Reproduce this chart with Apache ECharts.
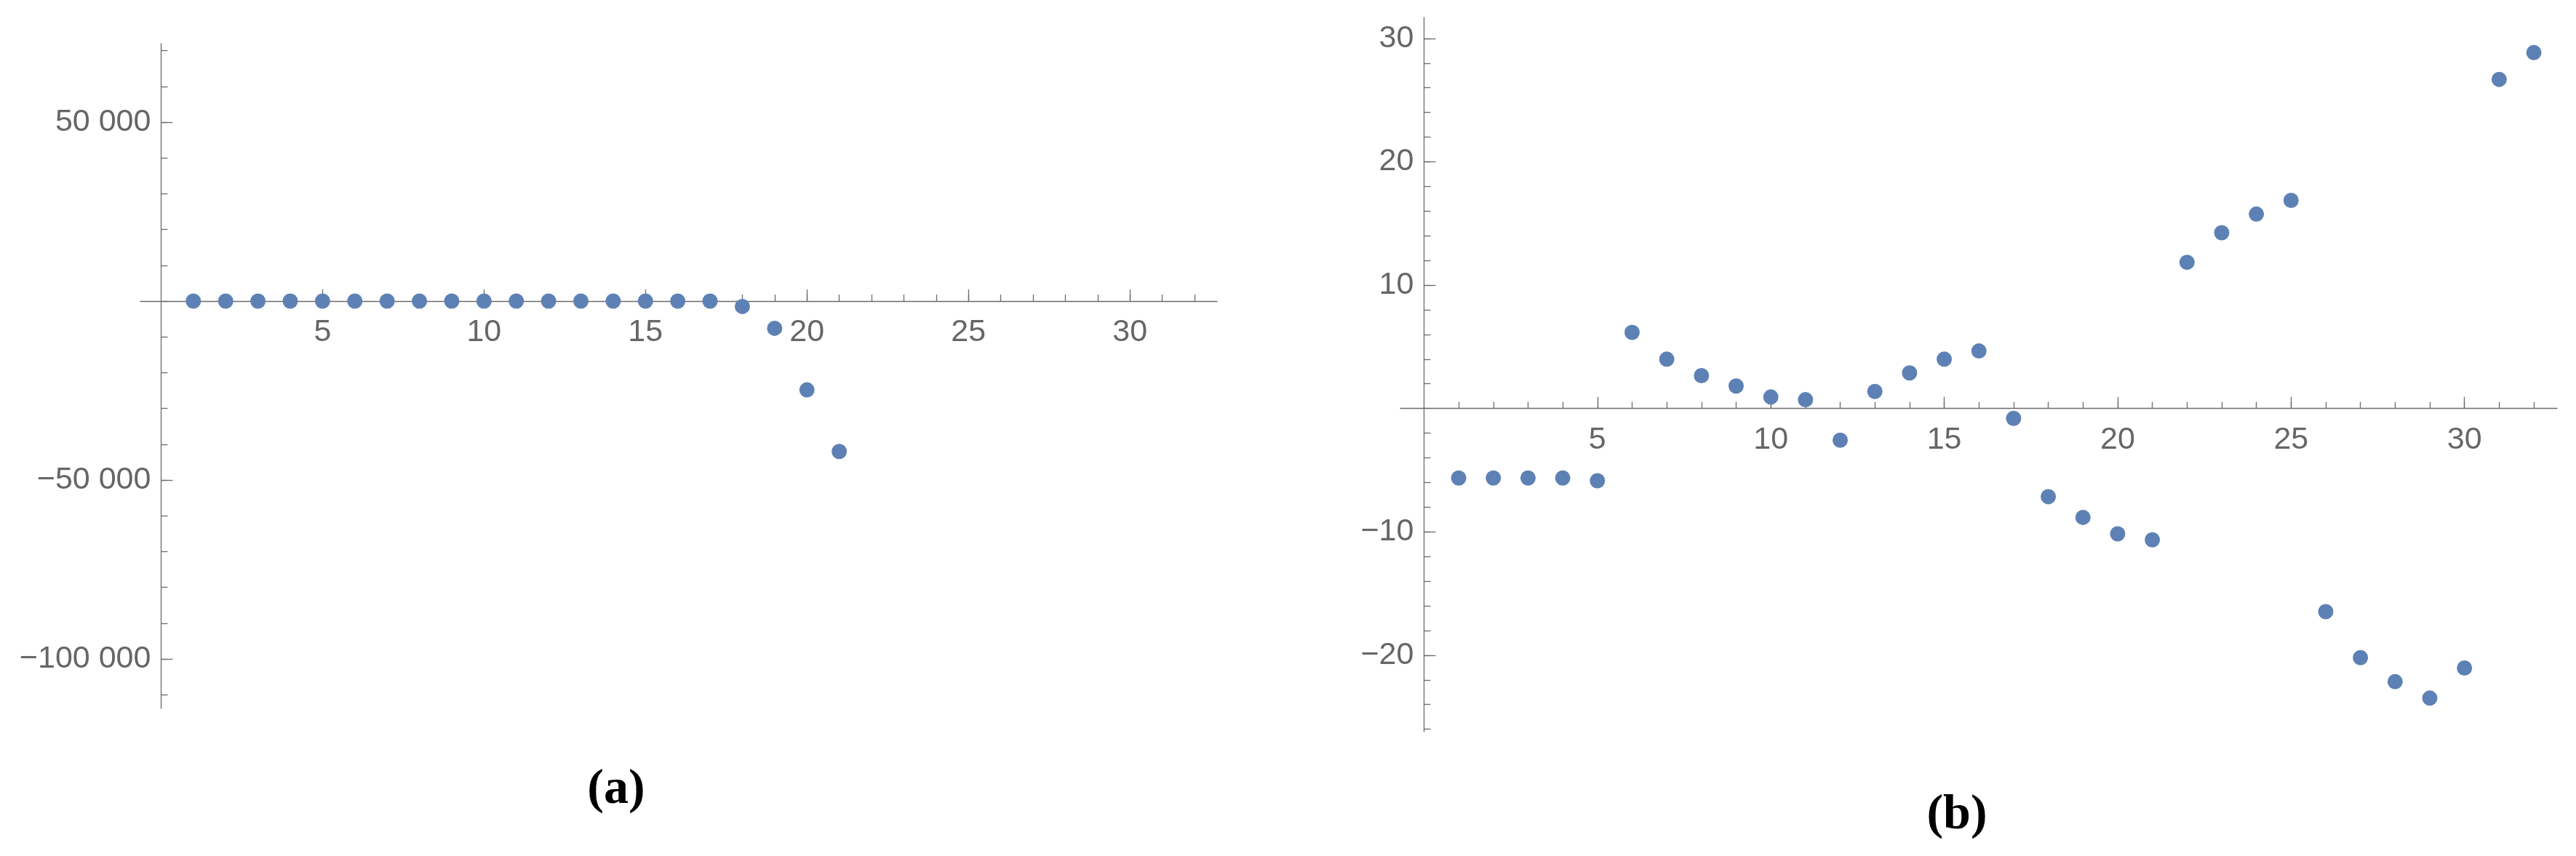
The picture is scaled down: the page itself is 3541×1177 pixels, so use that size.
<!DOCTYPE html>
<html>
<head>
<meta charset="utf-8">
<title>scatter (a) (b)</title>
<script src="https://cdn.jsdelivr.net/npm/echarts@6/dist/echarts.min.js"></script>
<style>
  html, body { margin: 0; padding: 0; background: #fff; }
  #chart { width: 3541px; height: 1177px; }
</style>
</head>
<body>
<div id="chart"></div>
<script>
// ---- panel (a) ----
const nA = [1, 2, 3, 4, 5, 6, 7, 8, 9, 10, 11, 12, 13, 14, 15, 16, 17, 18, 19, 20, 21];
const valuesA = [0, 0, 0, 0, 0, 0, 0, 0, 0, 0, 0, 0, 0, 0, 0, 0, 0, -1500, -7600, -24800, -42000];
const xLabelsA = [5, 10, 15, 20, 25, 30];
const xMinorA = [1, 2, 3, 4, 5, 6, 7, 8, 9, 10, 11, 12, 13, 14, 15, 16, 17, 18, 19, 20, 21, 22, 23, 24, 25, 26, 27, 28, 29, 30, 31, 32];
const yLabelsA = [-100000, -50000, 50000];
const yMinorA = [-110000, -100000, -90000, -80000, -70000, -60000, -50000, -40000, -30000, -20000, -10000,
  0, 10000, 20000, 30000, 40000, 50000, 60000, 70000];

// ---- panel (b) ----
const nB = [1, 2, 3, 4, 5, 6, 7, 8, 9, 10, 11, 12, 13, 14, 15, 16, 17, 18, 19, 20, 21, 22, 23, 24, 25, 26, 27, 28, 29, 30, 31, 32];
const valuesB = [-5.64, -5.64, -5.64, -5.64, -5.86, 6.17, 4.0, 2.66, 1.82, 0.93, 0.71, -2.57, 1.38, 2.88, 4.0, 4.66,
  -0.8, -7.15, -8.83, -10.16, -10.65, 11.85, 14.25, 15.76, 16.87, -16.47, -20.2, -22.15, -23.48, -21.04, 26.68, 28.85];
const xLabelsB = [5, 10, 15, 20, 25, 30];
const xMinorB = xMinorA;
const yLabelsB = [-20, -10, 10, 20, 30];
const yMinorB = [-26, -24, -22, -20, -18, -16, -14, -12, -10, -8, -6, -4, -2, 0, 2, 4, 6, 8, 10, 12, 14, 16, 18, 20,
  22, 24, 26, 28, 30];

const axisColor = '#6a6a6a';
const dotColor = '#5e81b5';

// plot boxes and visible ranges
const boxA = { left: 193, top: 60, width: 1480, height: 914 };
const rangeA = { xMin: -0.64, xMax: 32.7, yMin: -113800, yMax: 71950 };
const boxB = { left: 1925, top: 24, width: 1590, height: 982 };
const rangeB = { xMin: -0.68, xMax: 32.67, yMin: -26.2, yMax: 31.7 };

const fmt = v => {
  if (v === 0) return '';
  const s = Math.abs(v).toString().replace(/\B(?=(\d{3})+(?!\d))/g, ' ');
  return (v < 0 ? '\u2212' : '') + s;
};

const line = { color: axisColor, width: 1.3 };
const label = { color: '#666', fontFamily: 'Liberation Sans, Arial, sans-serif', fontSize: 43 };

// axes cross at 0: move them there with offset, major ticks come from a second, line-less axis
function buildAxes(grid, box, r, xLab, xMin, yLab, yMin) {
  const zx = (0 - r.xMin) / (r.xMax - r.xMin) * box.width;
  const zy = (0 - r.yMin) / (r.yMax - r.yMin) * box.height;
  const xs = [
    {
      type: 'value', gridIndex: grid, min: r.xMin, max: r.xMax, position: 'bottom', offset: -zy,
      axisLine: { show: true, onZero: false, lineStyle: line },
      axisTick: { show: true, inside: true, length: 9, customValues: xMin, lineStyle: line },
      axisLabel: Object.assign({ customValues: xLab, margin: 22, formatter: fmt }, label),
      splitLine: { show: false }
    },
    {
      type: 'value', gridIndex: grid, min: r.xMin, max: r.xMax, position: 'top', offset: -(box.height - zy),
      axisLine: { show: false, onZero: false },
      axisTick: { show: true, inside: false, length: 16, customValues: xLab, lineStyle: line },
      axisLabel: { show: false },
      splitLine: { show: false }
    }
  ];
  const ys = [
    {
      type: 'value', gridIndex: grid, min: r.yMin, max: r.yMax, position: 'left', offset: -zx,
      axisLine: { show: true, onZero: false, lineStyle: line },
      axisTick: { show: true, inside: true, length: 9, customValues: yMin, lineStyle: line },
      axisLabel: Object.assign({ customValues: yLab, margin: 14, formatter: fmt }, label),
      splitLine: { show: false }
    },
    {
      type: 'value', gridIndex: grid, min: r.yMin, max: r.yMax, position: 'right', offset: -(box.width - zx),
      axisLine: { show: false, onZero: false },
      axisTick: { show: true, inside: false, length: 16, customValues: yLab, lineStyle: line },
      axisLabel: { show: false },
      splitLine: { show: false }
    }
  ];
  return { xs, ys };
}

const axA = buildAxes(0, boxA, rangeA, xLabelsA, xMinorA, yLabelsA, yMinorA);
const axB = buildAxes(1, boxB, rangeB, xLabelsB, xMinorB, yLabelsB, yMinorB);

const caption = (letter, x, y) => ({
  text: '{p|(}{l|' + letter + '}{p|)}',
  left: x, top: y, padding: 0,
  textAlign: 'center', textVerticalAlign: 'middle',
  textStyle: {
    rich: {
      p: { fontFamily: 'Liberation Serif, serif', fontSize: 68, color: '#000' },
      l: { fontFamily: 'Liberation Serif, serif', fontSize: 68, fontWeight: 'bold', color: '#000' }
    }
  }
});

const chart = echarts.init(document.getElementById('chart'));
chart.setOption({
  animation: false,
  backgroundColor: '#fff',
  title: [caption('a', 847, 1086), caption('b', 2690, 1121)],
  grid: [
    Object.assign({ containLabel: false }, boxA),
    Object.assign({ containLabel: false }, boxB)
  ],
  xAxis: axA.xs.concat(axB.xs),
  yAxis: axA.ys.concat(axB.ys),
  series: [
    {
      type: 'scatter', xAxisIndex: 0, yAxisIndex: 0, symbolSize: 21, silent: true,
      itemStyle: { color: dotColor, opacity: 1 },
      data: nA.map((n, i) => [n, valuesA[i]])
    },
    {
      type: 'scatter', xAxisIndex: 2, yAxisIndex: 2, symbolSize: 21, silent: true,
      itemStyle: { color: dotColor, opacity: 1 },
      data: nB.map((n, i) => [n, valuesB[i]])
    }
  ]
});
</script>
</body>
</html>
